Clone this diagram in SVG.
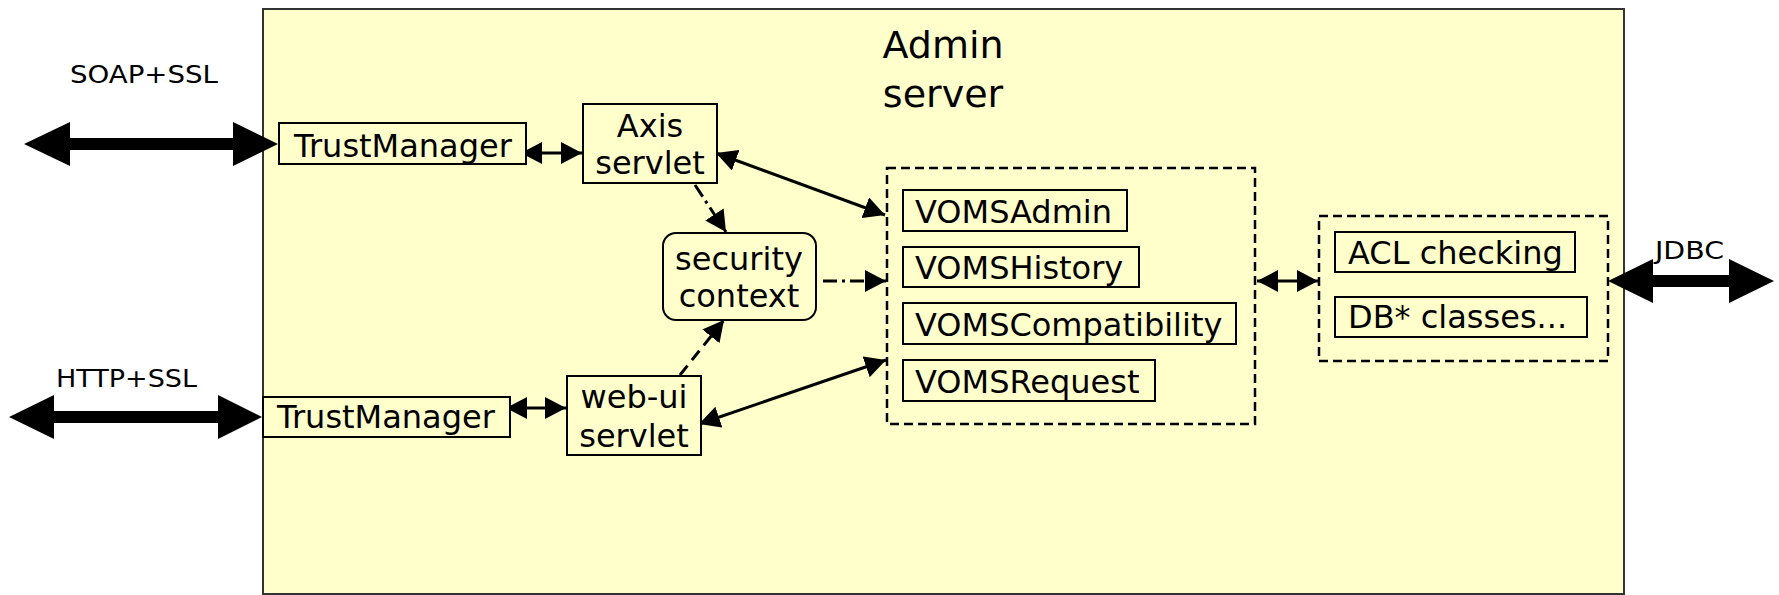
<svg xmlns="http://www.w3.org/2000/svg" width="1779" height="595" viewBox="0 0 1779 595">
<style>
text{font-family:"DejaVu Sans","Liberation Sans",sans-serif;fill:#000}
.lbl{font-size:32px}
.mid{text-anchor:middle}
.ext{font-size:25px}
.title{font-size:38px;text-anchor:middle}
.box{fill:#FFFFCC;stroke:#000;stroke-width:2}
.grp{fill:none;stroke:#000;stroke-width:2.5;stroke-dasharray:9 5}
.con{fill:none;stroke:#000;stroke-width:3}
.solid{marker-end:url(#ah);marker-start:url(#ahs)}
.dashdot{stroke-dasharray:14 5 3 5;marker-end:url(#ah)}
.dash{stroke-dasharray:12 7;marker-end:url(#ah)}
.big{fill:#000}
</style>
<defs>
<marker id="ah" markerUnits="userSpaceOnUse" markerWidth="21" markerHeight="22" refX="21" refY="11" orient="auto" viewBox="0 0 21 22">
<path d="M0,0 L21,11 L0,22 z" fill="#000"/>
</marker>
<marker id="ahs" markerUnits="userSpaceOnUse" markerWidth="21" markerHeight="22" refX="21" refY="11" orient="auto-start-reverse" viewBox="0 0 21 22">
<path d="M0,0 L21,11 L0,22 z" fill="#000"/>
</marker>
</defs>
<rect x="263" y="9" width="1361" height="585" fill="#FFFFCC" stroke="#333" stroke-width="2"/>
<g id="title"><text class="title" x="943" y="58">Admin</text><text class="title" x="943" y="107">server</text></g>
<g id="ext-labels">
<text class="ext" x="70" y="83" textLength="148" lengthAdjust="spacingAndGlyphs">SOAP+SSL</text>
<text class="ext" x="56" y="387" textLength="141" lengthAdjust="spacingAndGlyphs">HTTP+SSL</text>
<text class="ext" x="1655" y="259" textLength="69" lengthAdjust="spacingAndGlyphs">JDBC</text>
</g>
<g id="connectors">
<polygon class="big" points="24,144 70,122 70,138 233,138 233,122 278,144 233,166 233,150 70,150 70,166"/>
<polygon class="big" points="9,417 54,395 54,411 218,411 218,395 262,417 218,439 218,423 54,423 54,439"/>
<polygon class="big" points="1608,281 1653,259 1653,275 1729,275 1729,259 1774,281 1729,303 1729,287 1653,287 1653,303"/>
<line class="con solid" x1="521" y1="153" x2="582" y2="153"/>
<line class="con solid" x1="506" y1="408" x2="566" y2="408"/>
<line class="con solid" x1="1257" y1="281" x2="1318" y2="281"/>
<line class="con solid" x1="716" y1="153" x2="885" y2="215"/>
<line class="con solid" x1="699" y1="424" x2="886" y2="360"/>
<line class="con dashdot" x1="695" y1="185" x2="726" y2="232"/>
<line class="con dashdot" x1="823" y1="281" x2="886" y2="281"/>
<line class="con dash" x1="680" y1="375" x2="724" y2="320"/>
</g>
<g id="trust-soap"><rect class="box" x="279" y="123" width="247" height="41"/><text class="lbl mid" x="403" y="157">TrustManager</text></g>
<g id="trust-http"><rect class="box" x="263" y="397" width="247" height="40"/><text class="lbl mid" x="386" y="428">TrustManager</text></g>
<g id="axis"><rect class="box" x="583" y="104" width="134" height="79"/><text class="lbl mid" x="650" y="137">Axis</text><text class="lbl mid" x="650" y="174">servlet</text></g>
<g id="security"><rect class="box" x="663" y="233" width="153" height="87" rx="13"/><text class="lbl mid" x="739" y="270">security</text><text class="lbl mid" x="739" y="307">context</text></g>
<g id="webui"><rect class="box" x="567" y="376" width="134" height="79"/><text class="lbl mid" x="634" y="408">web-ui</text><text class="lbl mid" x="634" y="447">servlet</text></g>
<g id="voms-group">
<rect class="grp" x="887" y="168" width="368" height="256"/>
<g id="vomsadmin"><rect class="box" x="903" y="190" width="224" height="41"/><text class="lbl" x="915" y="223">VOMSAdmin</text></g>
<g id="vomshistory"><rect class="box" x="903" y="247" width="236" height="40"/><text class="lbl" x="915" y="279">VOMSHistory</text></g>
<g id="vomscompat"><rect class="box" x="903" y="303" width="333" height="41"/><text class="lbl" x="915" y="336">VOMSCompatibility</text></g>
<g id="vomsrequest"><rect class="box" x="903" y="360" width="252" height="41"/><text class="lbl" x="915" y="393">VOMSRequest</text></g>
</g>
<g id="db-group">
<rect class="grp" x="1319" y="216" width="289" height="145"/>
<g id="acl"><rect class="box" x="1335" y="232" width="240" height="40"/><text class="lbl" x="1348" y="264">ACL checking</text></g>
<g id="dbclasses"><rect class="box" x="1335" y="297" width="252" height="40"/><text class="lbl" x="1348" y="328">DB* classes...</text></g>
</g>
</svg>
